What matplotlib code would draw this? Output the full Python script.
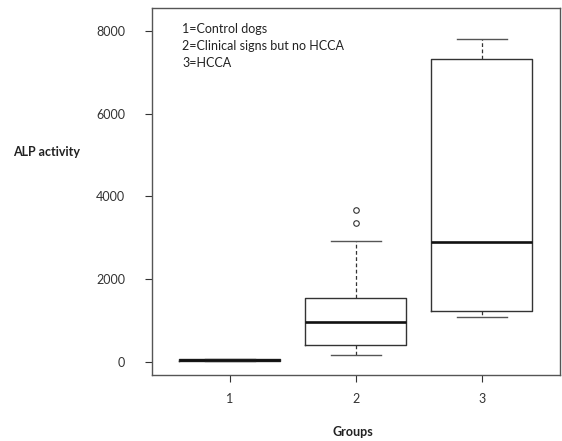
import matplotlib.pyplot as plt

plt.rcParams['font.family'] = ['Lato', 'DejaVu Sans']

groups = [1, 2, 3]
q1 = [15, 398, 1226]
medians = [40, 965, 2904]
q3 = [65, 1542, 7330]
whislo = [15, 163, 1070]
whishi = [65, 2911, 7800]
fliers = [[], [3356, 3672], []]

legend_lines = ['1=Control dogs', '2=Clinical signs but no HCCA', '3=HCCA']

stats = []
for i in range(len(groups)):
    stats.append({'q1': q1[i], 'med': medians[i], 'q3': q3[i],
                  'whislo': whislo[i], 'whishi': whishi[i],
                  'fliers': fliers[i], 'label': str(groups[i])})

fig = plt.figure(figsize=(5.62, 4.41), dpi=100)
ax = fig.add_axes([0.27, 0.15, 0.7264, 0.831])

ax.bxp(stats, positions=groups, widths=0.8, capwidths=0.4,
       boxprops=dict(color='#333333', linewidth=1.0),
       medianprops=dict(color='#111111', linewidth=1.9, solid_capstyle='butt'),
       whiskerprops=dict(color='#333333', linewidth=0.9, linestyle=(0, (3, 2))),
       capprops=dict(color='#555555', linewidth=1.0),
       flierprops=dict(marker='o', markersize=4, markerfacecolor='none',
                       markeredgecolor='#333333', markeredgewidth=0.8))

ax.set_xlim(0.38, 3.62)
ax.set_ylim(-323, 8553)
ax.set_yticks([0, 2000, 4000, 6000, 8000])
ax.set_yticklabels(['0', '2000', '4000', '6000', '8000'])
ax.tick_params(axis='y', length=5, pad=14, labelsize=9, colors='#333333')
ax.tick_params(axis='x', length=5, pad=8, labelsize=9, colors='#333333')
for s in ax.spines.values():
    s.set_color('#555555')
    s.set_linewidth(1.0)

for i, t in enumerate(legend_lines):
    ax.text(0.075, 0.945 - i * 0.047, t, transform=ax.transAxes,
            fontsize=9, color='#222222', va='center', ha='left')

fig.text(0.023, 0.655, 'ALP activity', fontsize=9, fontweight='bold',
         color='#222222', va='center', ha='left')
fig.text(0.628, 0.02, 'Groups', fontsize=9, fontweight='bold',
         color='#222222', va='center', ha='center')

fig.savefig('out.png', dpi=100)
